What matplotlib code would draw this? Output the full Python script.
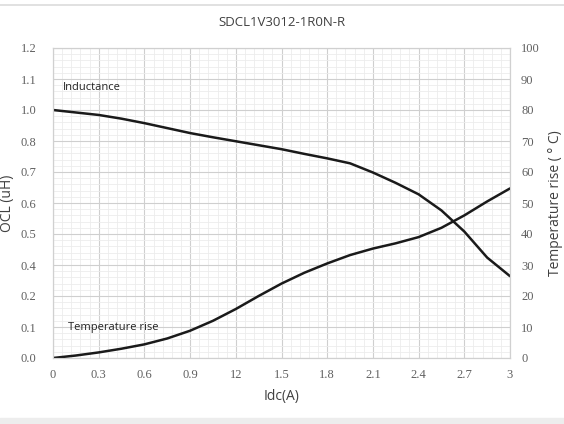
import matplotlib
matplotlib.use("Agg")
import matplotlib.pyplot as plt
from matplotlib.ticker import MultipleLocator, FixedLocator
import numpy as np

title = "SDCL1V3012-1R0N-R"
idc = [0.0, 0.15, 0.3, 0.45, 0.6, 0.75, 0.9, 1.05, 1.2, 1.35, 1.5, 1.65, 1.8,
       1.95, 2.1, 2.25, 2.4, 2.55, 2.7, 2.85, 3.0]
inductance = [1.0, 0.99, 0.98, 0.965, 0.947, 0.927, 0.907, 0.89, 0.874, 0.858,
              0.842, 0.823, 0.805, 0.785, 0.748, 0.706, 0.66, 0.595, 0.51, 0.405, 0.33]
temp_rise = [0.0, 0.8, 1.8, 3.0, 4.4, 6.3, 8.8, 12.0, 15.8, 20.0, 24.0, 27.5,
             30.5, 33.2, 35.3, 37.0, 39.0, 42.0, 46.0, 50.5, 54.7]
x_ticks = [0, 0.3, 0.6, 0.9, 1.2, 1.5, 1.8, 2.1, 2.4, 2.7, 3.0]
x_tick_labels = ["0", "0.3", "0.6", "0.9", "12", "1.5", "1.8", "2.1", "2.4", "2.7", "3"]
left_tick_labels = ["0.0", "0.1", "0.2", "0.4", "0.5", "0.6", "0.7", "0.8", "1.0", "1.1", "1.2"]
right_ticks = [0, 10, 20, 30, 40, 50, 60, 70, 80, 90, 100]

fig = plt.figure(figsize=(5.64, 4.24), dpi=100)
ax = fig.add_axes([53/564, 1-358/424, (510-53)/564, (358-48)/424])
ax2 = ax.twinx()

ax.set_xlim(0, 3)
ax.set_ylim(0, 1.25)
ax2.set_ylim(0, 100)

ax.xaxis.set_major_locator(FixedLocator(x_ticks))
ax.set_xticklabels(x_tick_labels)
ax.xaxis.set_minor_locator(MultipleLocator(0.06))
lt = np.linspace(0, 1.25, len(left_tick_labels))
ax.yaxis.set_major_locator(FixedLocator(lt))
ax.set_yticklabels(left_tick_labels)
ax.yaxis.set_minor_locator(MultipleLocator(0.025))
ax2.yaxis.set_major_locator(FixedLocator(right_ticks))

ax.grid(which="major", color="#cfcfcf", linewidth=0.8)
ax.grid(which="minor", color="#ececec", linewidth=0.6)
ax.set_axisbelow(True)
for a in (ax, ax2):
    for s in a.spines.values():
        s.set_color("#d0d0d0")
        s.set_linewidth(0.8)
    a.tick_params(which="both", length=0)

for lab in ax.get_xticklabels() + ax.get_yticklabels() + ax2.get_yticklabels():
    lab.set_fontfamily("Liberation Serif")
    lab.set_fontsize(9)
    lab.set_color("#606060")
ax.tick_params(axis="x", pad=8)
ax.tick_params(axis="y", pad=12)
ax2.tick_params(axis="y", pad=8)

ax.plot(idc, inductance, color="#1a1a1a", linewidth=1.8, solid_capstyle="round",
        solid_joinstyle="round")
ax2.plot(idc, temp_rise, color="#1a1a1a", linewidth=1.8, solid_capstyle="round",
         solid_joinstyle="round")

lab_font = dict(family="Open Sans", color="#404040")
ax.set_xlabel("Idc(A)", fontsize=10, labelpad=6, **lab_font)
ax.set_ylabel("OCL (uH)", fontsize=10, labelpad=4, **lab_font)
ax2.set_ylabel("Temperature rise ( ° C)", fontsize=10, labelpad=6, **lab_font)
fig.text(0.5, 1-22/424, title, ha="center", va="center", fontsize=9.5, **lab_font)

ax2.text(0.066, 87.4, "Inductance", fontsize=8, va="center", ha="left",
         family="Open Sans", color="#222222")
ax2.text(0.1, 9.7, "Temperature rise", fontsize=8, va="center", ha="left",
         family="Open Sans", color="#222222")

fig.add_artist(plt.Line2D([0, 1], [1-5/424, 1-5/424], color="#dcdcdc", linewidth=1.2,
                          transform=fig.transFigure))
fig.add_artist(plt.Rectangle((0, 0), 1, 6/424, color="#ededed", transform=fig.transFigure))

fig.savefig("out.png", dpi=100)
